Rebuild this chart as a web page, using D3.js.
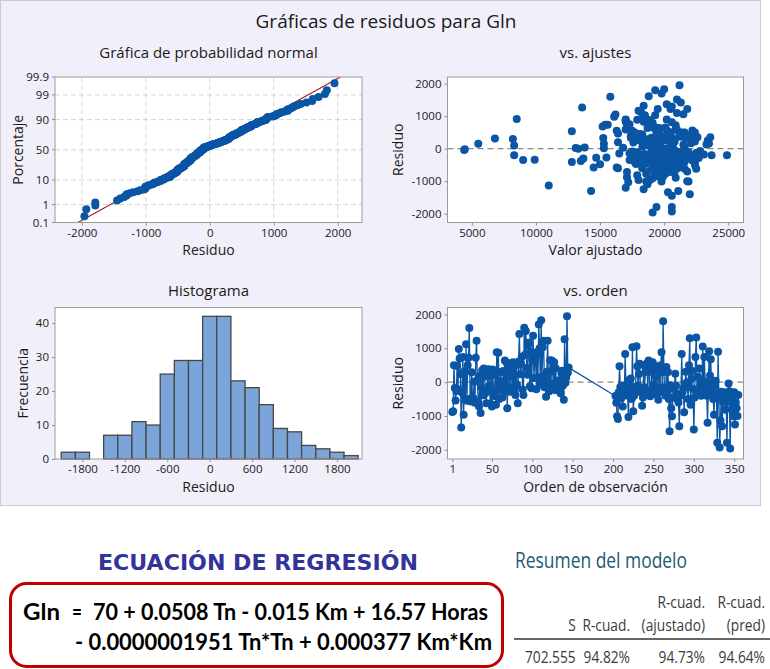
<!DOCTYPE html>
<html lang="es"><head><meta charset="utf-8"><title>Gráficas de residuos para Gln</title>
<script src="https://cdn.jsdelivr.net/npm/d3@7/dist/d3.min.js"></script>
<style>html,body{margin:0;padding:0;background:#fff}svg{display:block}</style>
</head><body>
<svg id="chart" width="770" height="669"></svg>
<script>
// ---------------- DATA ----------------
const mainTitle = "Gráficas de residuos para Gln";
const panelTitles = ["Gráfica de probabilidad normal", "vs. ajustes", "Histograma", "vs. orden"];

// Residuals by observation order, first block (obs 1..145)
const obsStartA = 1;
const residualsA = [
 -880,-860,500,-170,-540,-260,480,-210,980,700,
 240,-1340,-310,740,-960,320,-520,1120,-550,500,
 720,1600,-490,-570,290,-540,-470,10,-610,720,
 1220,60,-590,-720,190,-910,-140,350,-390,400,
 270,-320,-620,-230,160,380,-90,-630,250,-720,
 370,-350,-410,210,-670,880,-240,870,-500,30,
 300,-190,-450,330,-290,640,-110,580,-770,360,
 440,-280,180,560,-160,590,-200,470,-380,550,
 -80,-620,610,1420,230,540,750,-220,-380,1610,
 810,1510,420,220,1100,1170,-120,900,-180,660,
 1370,120,640,790,-210,890,130,1700,1000,-60,
 1830,170,1030,1220,-150,90,-430,310,1220,-130,
 -270,650,-190,640,350,-40,590,-230,410,-160,
 20,-70,-250,60,-330,260,340,-100,-520,1270,
 -20,140,1950,280,430
];
// Fitted values paired with residualsA
const fittedA = [
 17100,19600,21200,19800,20700,18900,22300,20100,16100,19000,
 20500,20300,19200,17100,18000,21700,19600,18200,20800,22400,
 20900,15800,19300,21300,18600,20100,17800,19900,21000,17200,
 21800,19700,18300,20800,17600,19100,20400,22600,18700,19500,
 20200,18900,21600,19400,23500,17400,20600,19900,18100,20500,
 21300,19000,17700,20800,19300,17000,22000,18800,20200,16800,
 19600,21200,18400,20000,22700,19200,17900,21000,18600,20400,
 18300,20700,19100,22200,18000,20900,23700,19400,21400,17500,
 20000,22500,19700,21300,18500,20300,17300,21800,19500,18800,
 20600,21000,18200,22400,21000,18000,19800,20200,17700,19300,
 20200,21500,18700,19100,20900,17900,23300,19800,18400,20600,
 20000,22100,19300,19500,21100,18800,20400,17600,20500,19000,
 21900,20100,18200,19600,23600,20800,17000,19400,21200,18500,
 20300,22800,19000,21600,18700,20000,17400,19800,21100,13600,
 19200,20700,21200,18100,22300
];
// Residuals by observation order, second block (obs 203..355)
const obsStartB = 203;
const residualsB = [
 -410,-610,-1010,-1090,-300,470,-140,-480,-200,-720,
 -100,-260,830,-150,-360,-400,-1030,60,-310,110,
 -500,1030,-860,-400,-240,-130,1060,470,-100,230,
 540,-300,-210,-700,-450,500,-150,300,340,550,
 -290,640,310,-420,-230,400,590,-70,500,-350,
 150,400,-180,-520,290,-300,500,880,-150,1800,
 300,-330,-400,450,-250,300,-500,-1450,-90,-770,
 -1010,-450,-200,-160,250,-110,-350,-510,-600,-1300,
 -400,-340,830,-300,-190,-890,-100,310,-20,-150,
 -500,500,1300,-670,100,330,-200,-1400,-450,740,
 1320,-300,150,-350,400,-100,-400,20,1050,-150,
 740,10,-300,-400,-1200,-100,910,200,680,-300,
 0,-500,-960,-100,40,-350,-1790,900,-400,-1930,
 -1130,-280,-1300,-580,-300,-380,-815,-480,-1790,-580,
 -40,-270,-1960,-400,-800,-500,-1010,-300,-1250,-600,
 -770,-1000,-380
];
const fittedB = [
 12800,20300,21900,18700,19600,20500,17300,19100,21400,17100,
 20900,18600,17000,19700,22200,20600,17200,18300,21000,19400,
 20100,18500,19900,21300,18000,22500,21500,16400,19100,20800,
 12800,20200,18400,21800,19600,17700,22900,20400,19000,16300,
 21100,19300,20600,18200,20000,22000,17200,19500,21400,18800,
 5500,20300,23100,19700,17800,21200,20500,18900,16500,19300,
 20800,19900,22400,18100,21700,8200,19200,20600,17500,20100,
 19800,18600,24900,20400,23400,19000,17900,21000,18300,14300,
 20700,9900,18400,22100,19600,20900,17600,6800,4450,19100,
 20200,21600,20600,18900,8300,15250,8300,22000,19400,15400,
 18400,20500,15300,17300,19900,21300,18700,13100,16200,22600,
 15600,15300,20100,19200,17000,21900,8500,16400,15200,18200,
 13300,20700,18900,21200,13800,9000,19400,17000,20300,20600,
 11000,14700,21100,14500,13700,13500,17900,15000,20600,16300,
 4400,15500,19100,21600,19700,22400,18600,20900,18400,16400,
 19300,21800,20200
];

// Histogram (bin midpoints, bin width 200) and frequencies
const histCenters = [-2000,-1800,-1600,-1400,-1200,-1000,-800,-600,-400,-200,0,200,400,600,800,1000,1200,1400,1600,1800,2000];
const histCounts  = [2,2,0,7,7,11,10,25,29,29,42,42,23,21,16,9,8,4,3,2,1];
const histBinWidth = 200;

// Tick values
const probTicks = [0.1, 1, 10, 50, 90, 99, 99.9];
const probGrid = [1, 10, 50, 90, 99];
const normXTicks = [-2000, -1000, 0, 1000, 2000];
const fitXTicks = [5000, 10000, 15000, 20000, 25000];
const residTicks = [-2000, -1000, 0, 1000, 2000];
const histXTicks = [-1800, -1200, -600, 0, 600, 1200, 1800];
const histYTicks = [0, 10, 20, 30, 40];
const orderTicks = [1, 50, 100, 150, 200, 250, 300, 350];

// Regression info
const eqTitle = "ECUACIÓN DE REGRESIÓN";
const eqLine1a = "Gln", eqLine1b = "=", eqLine1c = "70 + 0.0508 Tn - 0.015 Km + 16.57 Horas";
const eqLine2 = "- 0.0000001951 Tn*Tn + 0.000377 Km*Km";
const summaryTitle = "Resumen del modelo";
const summaryHead1 = ["", "", "R-cuad.", "R-cuad."];
const summaryHead2 = ["S", "R-cuad.", "(ajustado)", "(pred)"];
const summaryValues = ["702.555", "94.82%", "94.73%", "94.64%"];

// ---------------- HELPERS ----------------
function qnorm(p){
  const a=[-3.969683028665376e+01,2.209460984245205e+02,-2.759285104469687e+02,1.383577518672690e+02,-3.066479806614716e+01,2.506628277459239e+00];
  const b=[-5.447609879822406e+01,1.615858368580409e+02,-1.556989798598866e+02,6.680131188771972e+01,-1.328068155288572e+01];
  const c=[-7.784894002430293e-03,-3.223964580411365e-01,-2.400758277161838e+00,-2.549732539343734e+00,4.374664141464968e+00,2.938163982698783e+00];
  const d=[7.784695709041462e-03,3.224671290700398e-01,2.445134137142996e+00,3.754408661907416e+00];
  const pl=0.02425, ph=1-pl; let q, r;
  if(p<pl){q=Math.sqrt(-2*Math.log(p));return (((((c[0]*q+c[1])*q+c[2])*q+c[3])*q+c[4])*q+c[5])/((((d[0]*q+d[1])*q+d[2])*q+d[3])*q+1);}
  if(p<=ph){q=p-0.5;r=q*q;return (((((a[0]*r+a[1])*r+a[2])*r+a[3])*r+a[4])*r+a[5])*q/(((((b[0]*r+b[1])*r+b[2])*r+b[3])*r+b[4])*r+1);}
  q=Math.sqrt(-2*Math.log(1-p));return -(((((c[0]*q+c[1])*q+c[2])*q+c[3])*q+c[4])*q+c[5])/((((d[0]*q+d[1])*q+d[2])*q+d[3])*q+1);
}
const FONT = '"Open Sans","Noto Sans",sans-serif';
const BLUE = "#0b55a5";
const TXT = "#1a1a1a";
const MR = 4;
const svg = d3.select("#chart");

svg.append("rect").attr("width",770).attr("height",669).attr("fill","#fff");
svg.append("rect").attr("x",0.5).attr("y",0.5).attr("width",760).attr("height",505)
   .attr("fill","#f1eff9").attr("stroke","#cbcbcb");

function text(x,y,t,size,opt={}){
  const el = svg.append("text").text(t)
    .attr("font-family",opt.font||FONT).attr("font-size",size)
    .attr("fill",opt.fill||TXT).attr("text-anchor",opt.anchor||"middle");
  if(opt.scaleX){
    el.attr("x",0).attr("y",0).attr("transform",`translate(${x},${y}) scale(${opt.scaleX},1)`);
  } else {
    el.attr("x",x).attr("y",y);
  }
  if(opt.weight) el.attr("font-weight",opt.weight);
  if(opt.rotate) el.attr("transform",`rotate(-90,${x},${y})`);
  if(opt.len) el.attr("textLength",opt.len).attr("lengthAdjust","spacingAndGlyphs");
  return el;
}
const defs = svg.append("defs");
function plotBg(box,id){
  svg.append("rect").attr("x",box.x0).attr("y",box.y0).attr("width",box.x1-box.x0).attr("height",box.y1-box.y0).attr("fill","#fff");
  defs.append("clipPath").attr("id",id).append("rect").attr("x",box.x0).attr("y",box.y0).attr("width",box.x1-box.x0).attr("height",box.y1-box.y0);
  return svg.append("g").attr("clip-path",`url(#${id})`);
}
function plotBorder(box){
  svg.append("rect").attr("x",box.x0).attr("y",box.y0).attr("width",box.x1-box.x0).attr("height",box.y1-box.y0)
    .attr("fill","none").attr("stroke","#9b9b9b").attr("stroke-width",1);
}
function styleAxis(g){
  g.select(".domain").remove();
  g.selectAll(".tick line").attr("stroke","#8f8f8f");
  g.selectAll(".tick text").attr("font-family",FONT).attr("font-size",11.5).attr("fill",TXT);
}
function xAxis(scale,box,ticks,fmt){
  svg.append("g").attr("transform",`translate(0,${box.y1})`)
    .call(d3.axisBottom(scale).tickValues(ticks).tickFormat(fmt||(d=>String(d))).tickSize(3).tickPadding(3))
    .call(styleAxis);
}
function yAxis(scale,box,ticks,fmt){
  svg.append("g").attr("transform",`translate(${box.x0},0)`)
    .call(d3.axisLeft(scale).tickValues(ticks).tickFormat(fmt||(d=>String(d))).tickSize(3).tickPadding(3))
    .call(styleAxis);
}

// ---------------- LAYOUT ----------------
const L = {x0:55, x1:362}, R = {x0:447.5, x1:743.5};
const TOP = {y0:77, y1:222.5}, BOT = {y0:307.5, y1:459};
const P1 = {...L, ...TOP}, P2 = {...R, ...TOP}, P3 = {...L, ...BOT}, P4 = {...R, ...BOT};

text(386, 28, mainTitle, 19);

const obsA = residualsA.map((_,i)=>obsStartA+i);
const obsB = residualsB.map((_,i)=>obsStartB+i);
const allObs = obsA.concat(obsB);
const allResid = residualsA.concat(residualsB);
const allFitted = fittedA.concat(fittedB);
const points = allResid.map((r,i)=>({obs:allObs[i], r, f:allFitted[i]}));

// ---- Panel 1: normal probability plot ----
{
  const g = plotBg(P1,"c1");
  const sorted = allResid.slice().sort(d3.ascending);
  const n = sorted.length;
  const mu = d3.mean(allResid), sd = d3.deviation(allResid);
  const x = d3.scaleLinear([-2420, 2380],[P1.x0,P1.x1]);
  const y = d3.scaleLinear([qnorm(0.001), qnorm(0.999)],[P1.y1,P1.y0]);
  const pScale = p => y(qnorm(p/100));
  g.selectAll(".gx").data(normXTicks).join("line").attr("x1",d=>x(d)).attr("x2",d=>x(d))
    .attr("y1",P1.y0).attr("y2",P1.y1).attr("stroke","#d6d6d6").attr("stroke-dasharray","5,3");
  g.selectAll(".gy").data(probGrid).join("line").attr("y1",pScale).attr("y2",pScale)
    .attr("x1",P1.x0).attr("x2",P1.x1).attr("stroke","#d6d6d6").attr("stroke-dasharray","5,3");
  const zz = [-4, 4];
  g.append("line").attr("x1",x(mu+sd*zz[0])).attr("y1",y(zz[0])).attr("x2",x(mu+sd*zz[1])).attr("y2",y(zz[1]))
    .attr("stroke","#a01818").attr("stroke-width",1.1);
  g.selectAll("circle").data(sorted).join("circle")
    .attr("cx",d=>x(d)).attr("cy",(d,i)=>y(qnorm((i+1-0.3)/(n+0.4)))).attr("r",MR).attr("fill",BLUE);
  plotBorder(P1);
  xAxis(x,P1,normXTicks);
  const yg = svg.append("g");
  probTicks.forEach(p=>{
    yg.append("line").attr("x1",P1.x0-3).attr("x2",P1.x0).attr("y1",pScale(p)).attr("y2",pScale(p)).attr("stroke","#8f8f8f");
    yg.append("text").attr("x",P1.x0-6).attr("y",pScale(p)).attr("dy","0.35em").attr("text-anchor","end")
      .attr("font-family",FONT).attr("font-size",11.5).attr("fill",TXT).text(String(p));
  });
  text((P1.x0+P1.x1)/2, 58, panelTitles[0], 15);
  text((P1.x0+P1.x1)/2, 255, "Residuo", 14);
  text(23, (P1.y0+P1.y1)/2, "Porcentaje", 14, {rotate:true});
}

// ---- Panel 2: residuals vs fits ----
{
  const g = plotBg(P2,"c2");
  const x = d3.scaleLinear([3100, 26190],[P2.x0,P2.x1]);
  const y = d3.scaleLinear([-2270, 2205],[P2.y1,P2.y0]);
  g.append("line").attr("x1",P2.x0).attr("x2",P2.x1).attr("y1",y(0)).attr("y2",y(0))
    .attr("stroke","#8a8a8a").attr("stroke-width",1.2).attr("stroke-dasharray","6,4");
  g.selectAll("circle").data(points).join("circle")
    .attr("cx",d=>x(d.f)).attr("cy",d=>y(d.r)).attr("r",MR).attr("fill",BLUE);
  plotBorder(P2);
  xAxis(x,P2,fitXTicks);
  yAxis(y,P2,residTicks);
  text((P2.x0+P2.x1)/2, 58, panelTitles[1], 15);
  text((P2.x0+P2.x1)/2, 255, "Valor ajustado", 14);
  text(403, (P2.y0+P2.y1)/2, "Residuo", 14, {rotate:true});
}

// ---- Panel 3: histogram ----
{
  plotBg(P3,"c3");
  const x = d3.scaleLinear([-2188, 2154],[P3.x0,P3.x1]);
  const y = d3.scaleLinear([0, 44.6],[P3.y1,P3.y0]);
  const bins = histCenters.map((c,i)=>({c, n:histCounts[i]}));
  svg.selectAll(".bar").data(bins).join("rect").attr("class","bar")
    .attr("x",d=>x(d.c-histBinWidth/2)).attr("width",d=>x(d.c+histBinWidth/2)-x(d.c-histBinWidth/2))
    .attr("y",d=>y(d.n)).attr("height",d=>y(0)-y(d.n))
    .attr("fill","#7ba4d8").attr("stroke","#474747").attr("stroke-width",1.3);
  plotBorder(P3);
  xAxis(x,P3,histXTicks);
  yAxis(y,P3,histYTicks);
  text((P3.x0+P3.x1)/2, 296, panelTitles[2], 15);
  text((P3.x0+P3.x1)/2, 492, "Residuo", 14);
  text(28, (P3.y0+P3.y1)/2, "Frecuencia", 14, {rotate:true});
}

// ---- Panel 4: residuals vs order ----
{
  const g = plotBg(P4,"c4");
  const x = d3.scaleLinear([-5, 361.5],[P4.x0,P4.x1]);
  const y = d3.scaleLinear([-2270, 2205],[P4.y1,P4.y0]);
  g.append("line").attr("x1",P4.x0).attr("x2",P4.x1).attr("y1",y(0)).attr("y2",y(0))
    .attr("stroke","#8a8a8a").attr("stroke-width",1.2).attr("stroke-dasharray","6,4");
  g.append("path").datum(points).attr("fill","none").attr("stroke",BLUE).attr("stroke-width",1.3)
    .attr("d",d3.line().x(d=>x(d.obs)).y(d=>y(d.r)));
  g.selectAll("circle").data(points).join("circle")
    .attr("cx",d=>x(d.obs)).attr("cy",d=>y(d.r)).attr("r",MR).attr("fill",BLUE);
  plotBorder(P4);
  xAxis(x,P4,orderTicks);
  yAxis(y,P4,residTicks);
  text((P4.x0+P4.x1)/2, 296, panelTitles[3], 15);
  text((P4.x0+P4.x1)/2, 492, "Orden de observación", 14);
  text(403, (P4.y0+P4.y1)/2, "Residuo", 14, {rotate:true});
}

// ---------------- REGRESSION EQUATION ----------------
text(258, 570, eqTitle, 20.5, {font:'"DejaVu Sans",sans-serif', weight:"bold", fill:"#333399", len:320});
svg.append("rect").attr("x",10.5).attr("y",583.5).attr("width",492).attr("height",83).attr("rx",16)
  .attr("fill","#fff").attr("stroke","#c00000").attr("stroke-width",3);
const EQF = 'Lato,"Open Sans",sans-serif';
text(23, 620, eqLine1a, 23, {font:EQF, weight:"bold", fill:"#000", anchor:"start", len:37});
text(72, 620, eqLine1b, 23, {font:EQF, weight:"bold", fill:"#000", anchor:"start", len:10});
text(93, 620, eqLine1c, 23, {font:EQF, weight:"bold", fill:"#000", anchor:"start", len:395});
text(75, 650, eqLine2, 23, {font:EQF, weight:"bold", fill:"#000", anchor:"start", len:417});

// ---------------- MODEL SUMMARY ----------------
text(515, 568, summaryTitle, 22, {anchor:"start", fill:"#1d5a74", len:172});
const colRight = [575.7, 630, 705, 765];
const TS = {anchor:"end", fill:"#3a3a3a", scaleX:0.86};
summaryHead1.forEach((t,i)=>{ if(t) text(colRight[i], 608, t, 16, TS); });
summaryHead2.forEach((t,i)=>text(colRight[i], 631, t, 16, TS));
svg.append("line").attr("x1",514).attr("x2",770).attr("y1",639).attr("y2",639).attr("stroke","#333").attr("stroke-width",1.6);
summaryValues.forEach((t,i)=>text(colRight[i], 663, t, 16, TS));
</script>
</body></html>
